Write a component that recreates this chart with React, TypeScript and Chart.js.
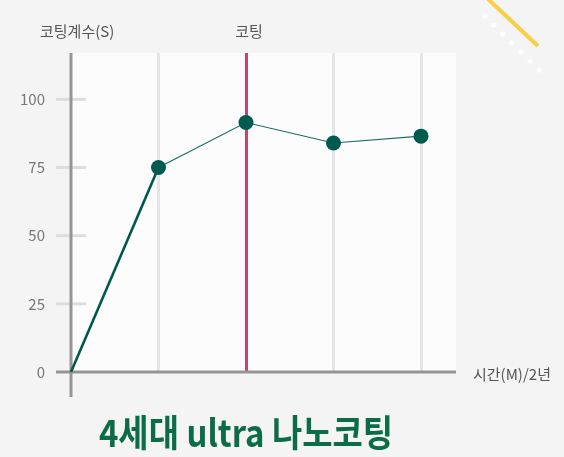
import { useRef, useEffect } from "react";
import { Chart, registerables } from "chart.js";

Chart.register(...registerables);

// chart values
const months = [0, 1, 2, 3, 4];
const coefficient = [0, 75, 91.5, 84, 86.5];
const yTicks = [0, 25, 50, 75, 100];
const coatingMonth = 2;

const FONT = '"Noto Sans CJK KR", "Noto Sans", sans-serif';

// background, axes, labels and decoration drawn around the chart area
const decorPlugin = {
  id: "decor",
  beforeDraw(chart: any) {
    const { ctx, chartArea } = chart;
    ctx.save();
    ctx.fillStyle = "#f4f4f4";
    ctx.fillRect(0, 0, chart.width, chart.height);
    ctx.fillStyle = "#fcfcfc";
    ctx.fillRect(chartArea.left, chartArea.top, chartArea.right - chartArea.left, chartArea.bottom - chartArea.top);

    // yellow stroke + white dots in the top right corner
    ctx.strokeStyle = "#f9cf45";
    ctx.lineWidth = 4;
    ctx.beginPath();
    ctx.moveTo(488, -1);
    ctx.lineTo(538, 46);
    ctx.stroke();
    ctx.fillStyle = "#ffffff";
    for (let i = 0; i < 7; i++) {
      ctx.beginPath();
      ctx.arc(484.5 + i * 9.1, 16 + i * 9, 2.6, 0, Math.PI * 2);
      ctx.fill();
    }
    ctx.restore();
  },
  beforeDatasetsDraw(chart: any) {
    const { ctx, chartArea, scales } = chart;
    const x = scales.x;
    const y = scales.y;
    ctx.save();
    // tick dashes
    ctx.strokeStyle = "#dddddd";
    ctx.lineWidth = 3;
    yTicks.forEach((v) => {
      if (v === 0) return;
      const py = y.getPixelForValue(v);
      ctx.beginPath();
      ctx.moveTo(56, py);
      ctx.lineTo(86, py);
      ctx.stroke();
    });
    // axes
    ctx.strokeStyle = "#959595";
    ctx.lineWidth = 3;
    const x0 = x.getPixelForValue(0);
    const y0 = y.getPixelForValue(0);
    ctx.beginPath();
    ctx.moveTo(x0, chartArea.top);
    ctx.lineTo(x0, 397);
    ctx.moveTo(56, y0);
    ctx.lineTo(chartArea.right, y0);
    ctx.stroke();

    // texts
    ctx.fillStyle = "#555555";
    ctx.font = `15px ${FONT}`;
    ctx.textBaseline = "middle";
    ctx.textAlign = "left";
    ctx.fillText("코팅계수(S)", 40, 31);
    ctx.fillText("시간(M)/2년", 473, y0 + 2);
    ctx.textAlign = "center";
    ctx.fillText("코팅", x.getPixelForValue(coatingMonth) + 3, 31);

    // condensed bold title
    ctx.fillStyle = "#0b6d48";
    ctx.font = `bold 37px ${FONT}`;
    ctx.textBaseline = "alphabetic";
    const cx = x.getPixelForValue(coatingMonth);
    ctx.translate(cx, 447);
    ctx.scale(0.89, 1);
    ctx.fillText("4세대 ultra 나노코팅", 0, 0);
    ctx.restore();
  },
};

export default function App() {
  const canvasRef = useRef<HTMLCanvasElement>(null);
  const chartRef = useRef<Chart | null>(null);

  useEffect(() => {
    if (!canvasRef.current) return;
    if (chartRef.current) chartRef.current.destroy();

    const data = months.map((m, i) => ({ x: m, y: coefficient[i] }));

    chartRef.current = new Chart(canvasRef.current, {
      type: "line",
      data: {
        datasets: [
          {
            data,
            borderColor: "#1a6b63",
            borderWidth: 1.2,
            pointRadius: (c: any) => (c.dataIndex === 0 ? 0 : 7.5),
            pointHoverRadius: 7.5,
            pointBackgroundColor: "#005a4e",
            pointBorderWidth: 0,
            segment: {
              borderWidth: (c: any) => (c.p0DataIndex === 0 ? 2.6 : 1.2),
              borderColor: (c: any) => (c.p0DataIndex === 0 ? "#00574b" : "#1a6b63"),
            },
            clip: false,
          } as any,
        ],
      },
      options: {
        responsive: true,
        maintainAspectRatio: false,
        animation: false,
        layout: { padding: { top: 53, right: 108, bottom: 85, left: 0 } },
        plugins: { legend: { display: false }, tooltip: { enabled: false } },
        scales: {
          x: {
            type: "linear",
            min: 0,
            max: 4.4,
            afterBuildTicks: (s: any) => {
              s.ticks = months.map((v) => ({ value: v }));
            },
            afterFit: (s: any) => {
              s.height = 0;
            },
            ticks: { display: false },
            border: { display: false },
            grid: {
              drawTicks: false,
              lineWidth: 3,
              color: (c: any) =>
                c.tick && c.tick.value === coatingMonth
                  ? "#c2456e"
                  : c.tick && c.tick.value === 0
                  ? "rgba(0,0,0,0)"
                  : "#e5e5e5",
            },
          },
          y: {
            min: 0,
            max: 117,
            afterBuildTicks: (s: any) => {
              s.ticks = yTicks.map((v) => ({ value: v }));
            },
            afterFit: (s: any) => {
              s.width = 71;
            },
            border: { display: false },
            grid: { display: false, drawTicks: false },
            ticks: {
              padding: 26,
              color: "#777777",
              font: { size: 15, family: FONT },
            },
          },
        },
      },
      plugins: [decorPlugin],
    });

    return () => {
      if (chartRef.current) {
        chartRef.current.destroy();
        chartRef.current = null;
      }
    };
  }, []);

  return (
    <div style={{ position: "fixed", left: 0, top: 0, width: 564, height: 457, background: "#f4f4f4" }}>
      <canvas ref={canvasRef} />
    </div>
  );
}
